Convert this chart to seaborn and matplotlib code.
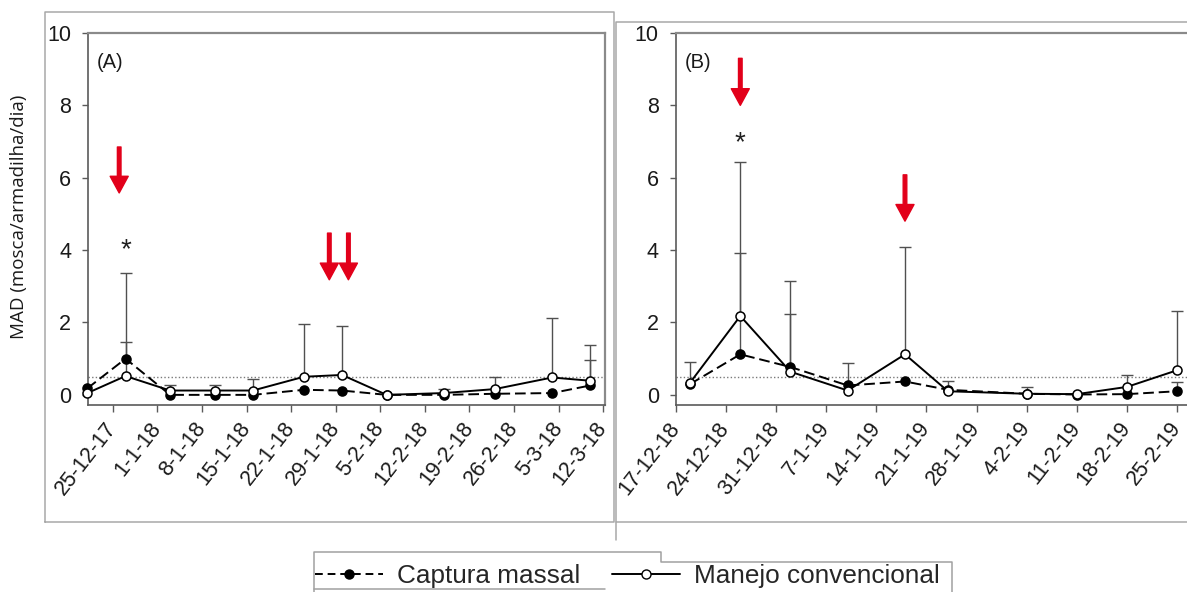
import numpy as np
import pandas as pd
import matplotlib
matplotlib.use("Agg")
import matplotlib.pyplot as plt
import seaborn as sns
from matplotlib.lines import Line2D

# ---------------- data ----------------
series_names = ["Captura massal", "Manejo convencional"]

# Panel A: season 2017/2018
dates_a = ["21-12-17", "27-12-17", "03-01-18", "10-01-18", "16-01-18", "24-01-18",
           "30-01-18", "06-02-18", "15-02-18", "23-02-18", "04-03-18", "10-03-18"]
captura_a = [0.18, 1.00, 0.00, 0.00, 0.00, 0.14, 0.12, 0.00, 0.00, 0.03, 0.05, 0.26]
convencional_a = [0.05, 0.52, 0.12, 0.12, 0.12, 0.50, 0.55, 0.00, 0.05, 0.16, 0.48, 0.39]
captura_a_se = [np.nan, 0.45, np.nan, np.nan, np.nan, np.nan, np.nan, np.nan,
                np.nan, np.nan, np.nan, 0.69]
convencional_a_se = [np.nan, 2.86, 0.16, 0.16, 0.31, 1.46, 1.34, np.nan,
                     0.10, 0.32, 1.64, 0.99]
ticks_a = ["25-12-17", "1-1-18", "8-1-18", "15-1-18", "22-1-18", "29-1-18",
           "5-2-18", "12-2-18", "19-2-18", "26-2-18", "5-3-18", "12-3-18"]
arrows_a = ["26-12-17", "28-01-18", "31-01-18"]
arrows_a_tail = [6.85, 4.47, 4.47]
arrows_a_tip = [5.58, 3.18, 3.18]
signif_a = ("27-12-17", 4.15)

# Panel B: season 2018/2019
dates_b = ["19-12-18", "26-12-18", "02-01-19", "10-01-19", "18-01-19",
           "24-01-19", "04-02-19", "11-02-19", "18-02-19", "25-02-19"]
captura_b = [0.30, 1.12, 0.77, 0.26, 0.37, 0.14, 0.03, 0.01, 0.02, 0.10]
convencional_b = [0.34, 2.18, 0.64, 0.12, 1.12, 0.10, 0.03, 0.02, 0.22, 0.68]
captura_b_se = [np.nan, 2.80, 2.38, 0.62, np.nan, np.nan, np.nan, np.nan, np.nan, 0.25]
convencional_b_se = [0.58, 4.25, 1.59, np.nan, 2.98, 0.27, 0.20, np.nan, 0.33, 1.65]
ticks_b = ["17-12-18", "24-12-18", "31-12-18", "7-1-19", "14-1-19", "21-1-19",
           "28-1-19", "4-2-19", "11-2-19", "18-2-19", "25-2-19"]
arrows_b = ["26-12-18", "18-01-19"]
arrows_b_tail = [9.3, 6.08]
arrows_b_tip = [8.0, 4.8]
signif_b = ("26-12-18", 7.1)

threshold = 0.5


def to_date(s):
    return pd.to_datetime(s, format="%d-%m-%y")


# ---------------- styling ----------------
sns.set_theme(style="ticks")
plt.rcParams["font.family"] = ["Liberation Sans", "DejaVu Sans"]

W, H = 1187, 592
fig = plt.figure(figsize=(W / 100, H / 100), dpi=100)


def fig_rect(x0, y0, x1, y1):
    return [x0 / W, 1 - y1 / H, (x1 - x0) / W, (y1 - y0) / H]


# outer panel frames
for pts in ([(45, 522), (45, 12), (614, 12), (614, 522), (45, 522)],
            [(616, 540), (616, 22), (1200, 22)],
            [(616, 522), (1200, 522)]):
    xs = [p[0] / W for p in pts]
    ys = [1 - p[1] / H for p in pts]
    fig.add_artist(Line2D(xs, ys, color="#a8a8a8", lw=1.1, transform=fig.transFigure))

ax_a = fig.add_axes(fig_rect(88, 33, 605, 405))
ax_b = fig.add_axes(fig_rect(675.5, 33, 1200, 405))

spine_dark = "#5a5a5a"
spine_light = "#8a8a8a"
red = "#e2001a"


def draw_panel(ax, dates, capt, conv, capt_se, conv_se, ticks, xlim,
               arr_x, arr_tail, arr_tip, signif, tag):
    x = to_date(dates)
    df = pd.DataFrame({
        "data": list(x) * 2,
        "MAD": list(capt) + list(conv),
        "grupo": [series_names[0]] * len(dates) + [series_names[1]] * len(dates),
    })
    ax.axhline(threshold, color="#7a7a7a", lw=1.0, ls=(0, (1, 1.6)), zorder=1)

    # upward standard-error bars
    for mean, se in ((capt, capt_se), (conv, conv_se)):
        m = np.asarray(mean, float)
        e = np.asarray(se, float)
        ok = ~np.isnan(e)
        if ok.any():
            _, caps, _ = ax.errorbar(np.asarray(x)[ok], m[ok],
                                     yerr=[np.zeros(ok.sum()), e[ok]],
                                     fmt="none", ecolor="#505050", elinewidth=1.0,
                                     capsize=4, capthick=1.0, zorder=2)
            caps[0].set_visible(False)

    sns.lineplot(data=df, x="data", y="MAD", hue="grupo", style="grupo",
                 hue_order=series_names, style_order=series_names,
                 palette={series_names[0]: "black", series_names[1]: "black"},
                 dashes={series_names[0]: (5.5, 2.5), series_names[1]: ""},
                 markers={series_names[0]: "o", series_names[1]: "o"},
                 markersize=6.5, markeredgecolor="black", markeredgewidth=1.1,
                 linewidth=1.4, errorbar=None, sort=False, legend=False, ax=ax)
    data_lines = [l for l in ax.get_lines() if l.get_marker() == "o"]
    data_lines[0].set_zorder(4)
    data_lines[1].set_markerfacecolor("white")
    data_lines[1].set_zorder(5)
    for l in data_lines:
        l.set_clip_on(False)

    # red arrows
    for ax_d, y0, y1 in zip(arr_x, arr_tail, arr_tip):
        d = to_date(ax_d)
        ax.annotate("", xy=(d, y1), xytext=(d, y0),
                    arrowprops=dict(arrowstyle="simple,head_length=0.6,head_width=0.65,tail_width=0.13",
                                    color=red, shrinkA=0, shrinkB=0, mutation_scale=20),
                    zorder=6)
    ax.text(to_date(signif[0]), signif[1] - 0.15, "*", ha="center", va="center",
            fontsize=20, color="#202020", zorder=6)

    ax.set_ylim(-0.28, 10)
    ax.set_yticks([0, 2, 4, 6, 8, 10])
    ax.set_xlim(xlim)
    tick_dates = pd.to_datetime(ticks, format="%d-%m-%y")
    ax.set_xticks(tick_dates)
    ax.set_xticklabels(ticks, rotation=52, ha="right", va="center",
                       rotation_mode="anchor", fontsize=15.5, color="#1a1a1a")
    ax.tick_params(axis="y", labelsize=15.5, length=4, width=1, color=spine_dark,
                   pad=8, labelcolor="#1a1a1a")
    ax.tick_params(axis="x", length=5, width=1, color=spine_dark, pad=9)
    ax.set_xlabel("")
    ax.set_ylabel("")
    for side in ("left", "bottom"):
        ax.spines[side].set_color(spine_dark)
        ax.spines[side].set_linewidth(1.2)
    for side in ("top", "right"):
        ax.spines[side].set_visible(True)
        ax.spines[side].set_color(spine_light)
        ax.spines[side].set_linewidth(1.6)
    ax.text(0.017, 0.922, tag, transform=ax.transAxes, ha="left", va="center",
            fontsize=14.5, color="#1a1a1a")


xlim_a = (to_date("25-12-17") - pd.Timedelta(days=3.9),
          to_date("12-03-18") + pd.Timedelta(days=0.3))
xlim_b = (to_date("17-12-18") - pd.Timedelta(days=0.05),
          to_date("17-12-18") + pd.Timedelta(days=73.2))

draw_panel(ax_a, dates_a, captura_a, convencional_a, captura_a_se, convencional_a_se,
           ticks_a, xlim_a, arrows_a, arrows_a_tail, arrows_a_tip, signif_a, "(A)")
draw_panel(ax_b, dates_b, captura_b, convencional_b, captura_b_se, convencional_b_se,
           ticks_b, xlim_b, arrows_b, arrows_b_tail, arrows_b_tip, signif_b, "(B)")

ax_a.set_ylabel("MAD (mosca/armadilha/dia)", fontsize=13.5, family=["Open Sans", "DejaVu Sans"],
                color="#1a1a1a")
ax_a.yaxis.set_label_coords(-0.116, 0.505)

# legend
handles = [
    Line2D([], [], color="black", ls=(0, (4, 2.5)), lw=1.4, marker="o", markersize=6.5,
           markerfacecolor="black", markeredgecolor="black"),
    Line2D([], [], color="black", ls="-", lw=1.4, marker="o", markersize=6.5,
           markerfacecolor="white", markeredgecolor="black"),
]
fig.legend(handles, series_names, loc="center left", bbox_to_anchor=(315 / W, 1 - 576 / H),
           ncol=2, frameon=False, fontsize=18.8, handlelength=2.6, handletextpad=0.55,
           columnspacing=1.2, borderaxespad=0, borderpad=0)
for pts in ([(314, 600), (314, 552), (661, 552), (661, 562), (952, 562), (952, 600)],
            [(314, 589), (605, 589)]):
    xs = [p[0] / W for p in pts]
    ys = [1 - p[1] / H for p in pts]
    fig.add_artist(Line2D(xs, ys, color="#a0a0a0", lw=1.1, transform=fig.transFigure))

fig.savefig("out.png", dpi=100)
